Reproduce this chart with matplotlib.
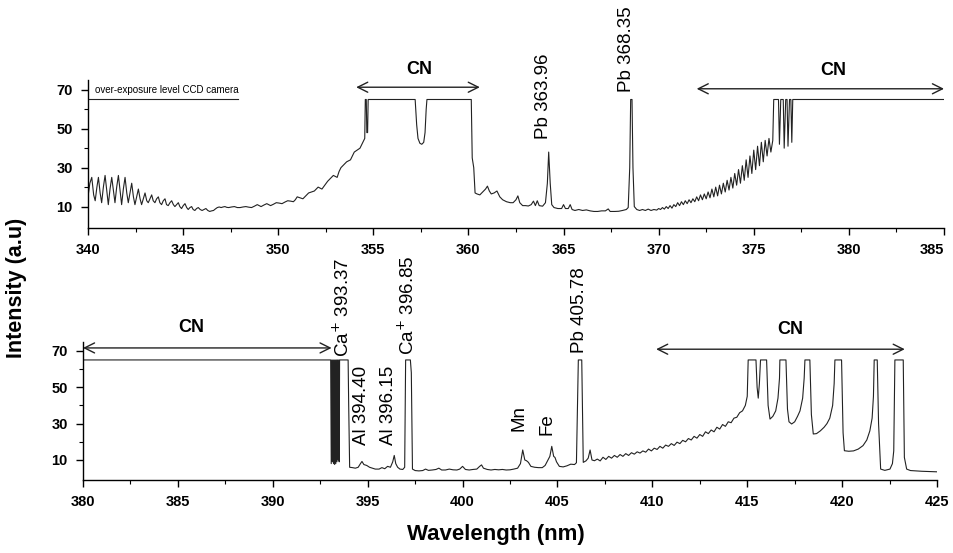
import numpy as np
import matplotlib.pyplot as plt
from matplotlib.ticker import FixedLocator

plt.rcParams['font.family'] = ['Liberation Sans', 'DejaVu Sans']

# ---- upper window: 340-385 nm (wavelength, intensity) ----
top_nm = [
    340.00, 340.10, 340.20, 340.30, 340.38, 340.47, 340.55, 340.64, 340.72, 340.81,
    340.90, 340.99, 341.07, 341.16, 341.25, 341.34, 341.42, 341.51, 341.60, 341.69,
    341.77, 341.86, 341.95, 342.04, 342.12, 342.21, 342.30, 342.39, 342.47, 342.56,
    342.65, 342.74, 342.82, 342.91, 343.00, 343.09, 343.17, 343.26, 343.35, 343.43,
    343.52, 343.61, 343.70, 343.78, 343.87, 343.96, 344.05, 344.13, 344.22, 344.31,
    344.40, 344.49, 344.57, 344.66, 344.75, 344.83, 344.92, 345.01, 345.10, 345.19,
    345.27, 345.36, 345.45, 345.53, 345.62, 345.71, 345.80, 345.90, 346.00, 346.10,
    346.20, 346.30, 346.40, 346.50, 346.60, 346.70, 346.80, 346.90, 347.00, 347.10,
    347.20, 347.30, 347.40, 347.55, 347.70, 347.85, 348.00, 348.15, 348.30, 348.45,
    348.60, 348.75, 348.90, 349.00, 349.10, 349.25, 349.40, 349.50, 349.60, 349.75,
    349.90, 350.05, 350.20, 350.35, 350.50, 350.65, 350.80, 350.90, 351.00, 351.15,
    351.30, 351.45, 351.60, 351.75, 351.90, 352.00, 352.10, 352.20, 352.30, 352.45,
    352.60, 352.75, 352.90, 353.00, 353.10, 353.20, 353.30, 353.45, 353.60, 353.70,
    353.80, 353.90, 354.00, 354.15, 354.30, 354.40, 354.50, 354.55, 354.58, 354.63,
    354.66, 354.70, 354.73, 357.20, 357.28, 357.35, 357.45, 357.55, 357.65, 357.72,
    357.78, 357.82, 360.15, 360.20, 360.28, 360.35, 360.45, 360.60, 360.75, 360.90,
    361.00, 361.10, 361.20, 361.35, 361.50, 361.65, 361.80, 362.00, 362.20, 362.35,
    362.50, 362.60, 362.70, 362.85, 363.00, 363.15, 363.30, 363.42, 363.52, 363.62,
    363.72, 363.90, 364.05, 364.15, 364.22, 364.30, 364.38, 364.50, 364.70, 364.90,
    365.00, 365.10, 365.25, 365.35, 365.45, 365.60, 365.80, 366.00, 366.20, 366.40,
    366.60, 366.80, 367.00, 367.20, 367.35, 367.45, 367.70, 367.90, 368.10, 368.30,
    368.40, 368.48, 368.53, 368.60, 368.65, 368.72, 368.85, 369.00, 369.15, 369.30,
    369.45, 369.60, 369.75, 369.90, 370.00, 370.10, 370.20, 370.30, 370.40, 370.50,
    370.60, 370.70, 370.80, 370.90, 371.00, 371.10, 371.20, 371.30, 371.40, 371.50,
    371.60, 371.70, 371.80, 371.90, 372.00, 372.10, 372.20, 372.30, 372.40, 372.50,
    372.60, 372.70, 372.80, 372.90, 373.00, 373.10, 373.20, 373.30, 373.40, 373.50,
    373.60, 373.70, 373.80, 373.90, 374.00, 374.10, 374.20, 374.30, 374.40, 374.50,
    374.60, 374.70, 374.80, 374.90, 375.00, 375.10, 375.20, 375.30, 375.40, 375.50,
    375.60, 375.70, 375.80, 375.90, 376.00, 376.05, 376.30, 376.35, 376.42, 376.55,
    376.60, 376.68, 376.75, 376.80, 376.88, 376.95, 377.00, 377.05, 385.00,
]
top_int = [
    15, 22, 25, 16, 13, 20, 25, 17, 12, 20,
    26, 18, 11, 19, 25, 18, 12, 20, 26, 18,
    11, 19, 25, 17, 12, 17, 22, 15, 11, 15,
    19, 14, 11, 14, 17, 13, 12, 14, 16, 13,
    12, 14, 15, 12, 11, 13, 14, 11, 10.5, 12,
    13, 11, 10, 11, 12, 10, 9, 10.5, 11.5, 9.5,
    8.5, 9.5, 10, 8.5, 8, 9, 9.5, 8.5, 8, 8.5,
    9, 8, 7.5, 7.8, 8, 8.8, 9.5, 9.8, 9.5, 9.8,
    10, 9.6, 9.5, 9.8, 10, 9.5, 9.5, 9.8, 10, 9.7,
    9.5, 10.2, 11, 10.5, 10, 10.8, 11.5, 11, 10.5, 11.2,
    12, 11.8, 11.5, 12.3, 13, 12.8, 12.5, 13.5, 15, 14.5,
    14, 15.5, 17, 17.5, 18, 19, 20, 19.5, 19, 21,
    23, 24.5, 26, 25.5, 25, 28, 30, 31.5, 33, 33.5,
    34, 36, 38, 39, 40, 42, 44, 45, 65, 65,
    48, 48, 65, 65, 52, 45, 42.5, 42, 43, 48,
    60, 65, 65, 35, 30, 17, 16.5, 16, 17.5, 19,
    20.5, 18, 16.5, 17, 18, 15, 13.5, 12.5, 12, 12,
    13.5, 15.5, 12, 10.5, 10.5, 10.3, 11, 12.8, 10.5, 13,
    10.5, 10.2, 12, 22, 38, 22, 11, 9.5, 9, 9,
    11, 9, 9, 11, 8.5, 8, 8.5, 8, 8.3, 7.8,
    7.5, 7.5, 7.8, 7.8, 8.8, 7.5, 7.5, 7.6, 8.0, 8.5,
    9.5, 30, 65, 65, 30, 10, 8.5, 8, 8.5, 8,
    8.7, 8, 8.5, 8.2, 9, 8.5, 9.5, 8.7, 10, 9,
    10.5, 9.2, 11, 10, 12, 10.5, 12.5, 11, 13, 11.5,
    13.5, 12, 14, 12.5, 15, 13, 16, 13.5, 16.5, 14,
    17.5, 14.5, 19, 15, 20, 15.5, 21, 16.5, 22, 17.5,
    23.5, 18.5, 25, 19.5, 27, 21, 29, 22, 31, 23.5,
    34, 25, 36, 27, 39, 29, 41, 31, 43, 33,
    44, 36, 45, 38, 44, 65, 65, 42, 65, 65,
    40, 65, 65, 41, 65, 65, 43, 65, 65,
]

# ---- lower window: 380-425 nm ----
bot_nm = [
    380.00, 393.05, 393.08, 393.11, 393.14, 393.17, 393.20, 393.23, 393.26, 393.29,
    393.32, 393.35, 393.38, 393.41, 393.44, 393.47, 393.50, 393.52, 393.97, 394.00,
    394.05, 394.20, 394.35, 394.50, 394.62, 394.70, 394.80, 394.95, 395.10, 395.25,
    395.40, 395.60, 395.75, 395.90, 396.05, 396.20, 396.32, 396.40, 396.48, 396.58,
    396.70, 396.85, 396.95, 397.00, 397.25, 397.30, 397.36, 397.50, 397.70, 397.90,
    398.05, 398.20, 398.40, 398.60, 398.75, 398.90, 399.10, 399.30, 399.50, 399.70,
    399.85, 400.00, 400.15, 400.35, 400.55, 400.75, 400.90, 401.00, 401.10, 401.30,
    401.50, 401.70, 401.90, 402.10, 402.30, 402.50, 402.70, 402.90, 403.05, 403.17,
    403.28, 403.37, 403.47, 403.60, 403.80, 404.00, 404.20, 404.35, 404.48, 404.60,
    404.70, 404.80, 404.87, 404.95, 405.10, 405.30, 405.50, 405.70, 405.90, 406.00,
    406.10, 406.28, 406.36, 406.50, 406.62, 406.72, 406.82, 406.95, 407.10, 407.25,
    407.40, 407.55, 407.70, 407.85, 408.00, 408.15, 408.30, 408.45, 408.60, 408.75,
    408.90, 409.05, 409.20, 409.35, 409.50, 409.65, 409.80, 409.95, 410.10, 410.25,
    410.40, 410.55, 410.70, 410.85, 411.00, 411.15, 411.30, 411.45, 411.60, 411.75,
    411.90, 412.05, 412.20, 412.35, 412.50, 412.65, 412.80, 412.95, 413.10, 413.25,
    413.40, 413.55, 413.70, 413.85, 414.00, 414.15, 414.30, 414.45, 414.60, 414.75,
    414.90, 415.00, 415.05, 415.46, 415.52, 415.58, 415.64, 415.70, 416.02, 416.10,
    416.20, 416.35, 416.50, 416.62, 416.70, 416.72, 417.04, 417.12, 417.20, 417.34,
    417.50, 417.65, 417.78, 417.92, 418.00, 418.04, 418.30, 418.38, 418.48, 418.65,
    418.85, 419.05, 419.20, 419.35, 419.50, 419.58, 419.62, 419.97, 420.05, 420.12,
    420.35, 420.60, 420.85, 421.10, 421.30, 421.46, 421.58, 421.65, 421.69, 421.85,
    421.92, 422.03, 422.25, 422.52, 422.65, 422.72, 422.78, 423.22, 423.28, 423.40,
    423.60, 423.90, 424.20, 424.50, 424.80, 425.00,
]
bot_int = [
    65, 65, 8, 65, 9, 65, 8, 65, 7.5, 65,
    8, 65, 9, 65, 10, 65, 9, 65, 65, 40,
    6, 5.8, 5.5, 6, 8, 9.2, 7.5, 7, 6, 5.5,
    5, 5, 5.8, 5.2, 6.5, 6, 9, 12.5, 8, 6,
    5, 4.8, 6, 65, 65, 58, 5, 4.2, 4, 4.2,
    5, 4.3, 4.5, 4.8, 5.5, 4.5, 4.5, 5, 4.6, 4.5,
    5, 6.5, 4.8, 4.5, 4.8, 5, 6.5, 7.3, 5.5, 4.8,
    4.5, 4.8, 4.6, 4.8, 4.5, 4.6, 5, 5.5, 8, 15.5,
    10, 9.6, 8.7, 6.5, 6, 5.8, 5.8, 7, 9.6, 12,
    17.5, 12, 11.4, 9, 6.5, 6.2, 6.8, 7.7, 7.5, 8.5,
    65, 65, 8.7, 9.5, 11, 15.5, 10, 9.6, 10.5, 9.5,
    11.5, 10.3, 12, 11, 12.5, 11.5, 13, 12, 13.5, 12.5,
    14, 13.2, 14.5, 13.8, 15, 14.3, 16, 15, 16.5, 15.8,
    17.5, 16.5, 18.2, 17.5, 19, 18, 19.8, 19, 20.8, 20,
    21.8, 21, 23, 22, 24, 23, 25.5, 24.5, 26.5, 25.5,
    28, 27, 29.5, 28.5, 31, 30.5, 33, 33.5, 36, 37,
    40, 45, 65, 65, 50, 44, 52, 65, 65, 40,
    32.5, 34, 37, 44, 55, 65, 65, 38, 31, 29.8,
    31, 34, 37, 44, 55, 65, 65, 35, 24.3, 24.5,
    26, 28, 30, 33, 40, 52, 65, 65, 25, 15.1,
    14.8, 15, 16, 17.9, 21, 26, 33, 45, 65, 65,
    30, 5, 4.3, 5, 8, 15, 65, 65, 11.4, 5,
    4.2, 4, 3.8, 3.7, 3.6, 3.5,
]

# line labels: (text, wavelength position, bottom of text)
top_labels = [('Pb 363.96', 363.95, 44.5), ('Pb 368.35', 368.30, 69.0)]
bot_labels = [('Ca$^{+}$ 393.37', 393.72, 66.5), ('Al 394.40', 394.68, 18.0),
              ('Al 396.15', 396.10, 18.0), ('Ca$^{+}$ 396.85', 397.14, 67.5),
              ('Mn', 403.0, 26.0), ('Fe', 404.46, 23.5), ('Pb 405.78', 406.18, 69.0)]
# CN band arrows: (start, end, arrow level, label x, label y)
top_cn = [(354.1, 360.6, 71.3, 357.4, 76.0), (372.0, 385.0, 70.5, 379.2, 75.5)]
bot_cn = [(380.0, 393.1, 71.6, 385.7, 78.0), (410.2, 423.3, 70.9, 417.25, 77.0)]

fig = plt.figure(figsize=(9.54, 5.53), dpi=100)
ax_top = fig.add_axes([0.0922, 0.5877, 0.8973, 0.2676])
ax_bot = fig.add_axes([0.0870, 0.1320, 0.8952, 0.2500])


def style_axis(ax, x0, x1):
    ax.set_xlim(x0, x1)
    ax.set_ylim(-1, 75)
    for side in ('top', 'right'):
        ax.spines[side].set_visible(False)
    ax.spines['left'].set_linewidth(1.0)
    ax.spines['bottom'].set_linewidth(1.0)
    ax.set_xticks(np.arange(x0, x1 + 1, 5))
    ax.xaxis.set_minor_locator(FixedLocator(np.arange(x0 + 2.5, x1, 5)))
    ax.set_yticks([10, 30, 50, 70])
    ax.yaxis.set_minor_locator(FixedLocator([20, 40, 60]))
    ax.tick_params(which='major', direction='out', length=5, width=1, labelsize=10.5, pad=6)
    ax.tick_params(which='minor', direction='out', length=3, width=0.8)
    for lab in ax.get_xticklabels() + ax.get_yticklabels():
        lab.set_fontweight('bold')


style_axis(ax_top, 340, 385)
style_axis(ax_bot, 380, 425)
# last label of the upper axis sits just left of its tick, as in the scan
ax_top.get_xticklabels()[-1].set_horizontalalignment('right')

ax_top.plot(top_nm, top_int, color='#222222', lw=0.8)
ax_bot.plot(bot_nm, bot_int, color='#222222', lw=0.8)

# over-exposure reference level
ax_top.plot([340, 347.9], [65.5, 65.5], color='#222222', lw=0.8)
ax_top.text(340.35, 67.5, 'over-exposure level CCD camera', fontsize=7, va='bottom', ha='left')

for ax, labels, bands in ((ax_top, top_labels, top_cn), (ax_bot, bot_labels, bot_cn)):
    for txt, xpos, ybase in labels:
        ax.text(xpos, ybase, txt, rotation=90, ha='center', va='bottom',
                fontsize=13.5, clip_on=False)
    for x0, x1, yl, xt, yt in bands:
        ax.annotate('', xy=(x1, yl), xytext=(x0, yl), annotation_clip=False,
                    arrowprops=dict(arrowstyle='<->', color='#222222', lw=1.0,
                                    mutation_scale=18, shrinkA=0, shrinkB=0))
        ax.text(xt, yt, 'CN', ha='center', va='bottom', fontsize=13,
                fontweight='bold', clip_on=False)

fig.text(0.017, 0.479, 'Intensity (a.u)', rotation=90, ha='center', va='center',
         fontsize=15.5, fontweight='bold')
fig.text(0.52, 0.033, 'Wavelength (nm)', ha='center', va='center',
         fontsize=16, fontweight='bold')

fig.savefig('out.png', dpi=100)
